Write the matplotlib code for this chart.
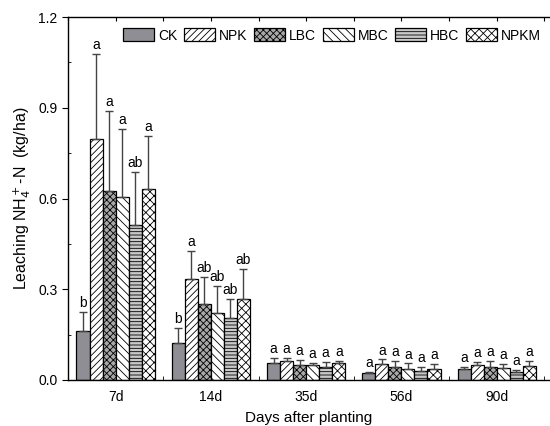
import numpy as np
import matplotlib
matplotlib.use("Agg")
import matplotlib.pyplot as plt
from matplotlib.ticker import MultipleLocator

plt.rcParams['font.family'] = ['Liberation Sans', 'DejaVu Sans']
plt.rcParams['hatch.linewidth'] = 0.6

days = ['7d', '14d', '35d', '56d', '90d']
treatments = ['CK', 'NPK', 'LBC', 'MBC', 'HBC', 'NPKM']

# mean leaching per treatment, one value per sampling day
ck   = [0.162, 0.122, 0.056, 0.022, 0.036]
npk  = [0.797, 0.334, 0.063, 0.052, 0.049]
lbc  = [0.625, 0.251, 0.050, 0.043, 0.043]
mbc  = [0.605, 0.222, 0.050, 0.036, 0.039]
hbc  = [0.512, 0.205, 0.043, 0.031, 0.027]
npkm = [0.631, 0.268, 0.056, 0.036, 0.045]

# standard errors (upper bars only)
ck_err   = [0.063, 0.050, 0.017, 0.004, 0.007]
npk_err  = [0.281, 0.092, 0.010, 0.016, 0.011]
lbc_err  = [0.264, 0.089, 0.017, 0.021, 0.019]
mbc_err  = [0.225, 0.089, 0.006, 0.019, 0.013]
hbc_err  = [0.176, 0.063, 0.017, 0.011, 0.005]
npkm_err = [0.176, 0.099, 0.007, 0.016, 0.017]

# significance letters
ck_sig   = ['b', 'b', 'a', 'a', 'a']
npk_sig  = ['a', 'a', 'a', 'a', 'a']
lbc_sig  = ['a', 'ab', 'a', 'a', 'a']
mbc_sig  = ['a', 'ab', 'a', 'a', 'a']
hbc_sig  = ['ab', 'ab', 'a', 'a', 'a']
npkm_sig = ['a', 'ab', 'a', 'a', 'a']

means = [ck, npk, lbc, mbc, hbc, npkm]
errs = [ck_err, npk_err, lbc_err, mbc_err, hbc_err, npkm_err]
sigs = [ck_sig, npk_sig, lbc_sig, mbc_sig, hbc_sig, npkm_sig]

styles = [
    dict(color='#8e8e94', hatch=None),
    dict(color='white', hatch='/////'),
    dict(color='#a8a8a8', hatch='xxxxx'),
    dict(color='white', hatch='\\\\\\\\'),
    dict(color='#c8c8c8', hatch='-----'),
    dict(color='white', hatch='xxxx'),
]

fig = plt.figure(figsize=(5.5, 4.26), dpi=100)
ax = fig.add_axes([0.1236, 0.108, 0.8764, 0.852])

x = np.arange(len(days))
w = 0.137
for i, (m, e, s, st) in enumerate(zip(means, errs, sigs, styles)):
    pos = x + (i - 2.5) * w
    ax.bar(pos, m, w, color=st['color'], hatch=st['hatch'], edgecolor='black',
           linewidth=0.9, label=treatments[i], zorder=2)
    ax.errorbar(pos, m, yerr=[np.zeros(len(m)), e], fmt='none', ecolor='#444444',
                elinewidth=1.0, capsize=3, capthick=1.0, zorder=3)
    for p, v, ee, t in zip(pos, m, e, s):
        ax.text(p, v + ee + 0.006, t, ha='center', va='bottom', fontsize=10)

ax.set_xlim(-0.5, 4.56)
ax.set_ylim(0, 1.2)
ax.yaxis.set_major_locator(MultipleLocator(0.3))
ax.yaxis.set_minor_locator(MultipleLocator(0.15))
ax.yaxis.set_major_formatter(matplotlib.ticker.FormatStrFormatter('%.1f'))
ax.set_xticks(x)
ax.set_xticklabels(days)
ax.set_xticks(x + 0.5, minor=True)
ax.tick_params(axis='x', which='major', length=0, labelsize=10, pad=7)
ax.tick_params(axis='x', which='minor', length=3, direction='in')
ax.tick_params(axis='y', which='major', length=4, direction='out', labelsize=10)
ax.tick_params(axis='y', which='minor', length=2, direction='in')
ax.spines['right'].set_visible(False)
for sp in ['left', 'bottom', 'top']:
    ax.spines[sp].set_linewidth(1.0)

# small ticks along the top frame
top = ax.secondary_xaxis('top')
top.set_xticks(np.arange(-0.5, 4.6, 0.5))
top.tick_params(direction='in', length=3, labeltop=False)
top.spines['top'].set_visible(False)

ax.set_ylabel('Leaching NH$_4^+$-N  (kg/ha)', fontsize=11.5, labelpad=4)
ax.set_xlabel('Days after planting', fontsize=11, labelpad=5)

ax.legend(loc='upper center', ncol=6, frameon=False, fontsize=10,
          bbox_to_anchor=(0.548, 1.0), handlelength=2.2, handleheight=1.1,
          handletextpad=0.3, columnspacing=0.5, borderaxespad=0.4)

fig.savefig('out.png', dpi=100)
